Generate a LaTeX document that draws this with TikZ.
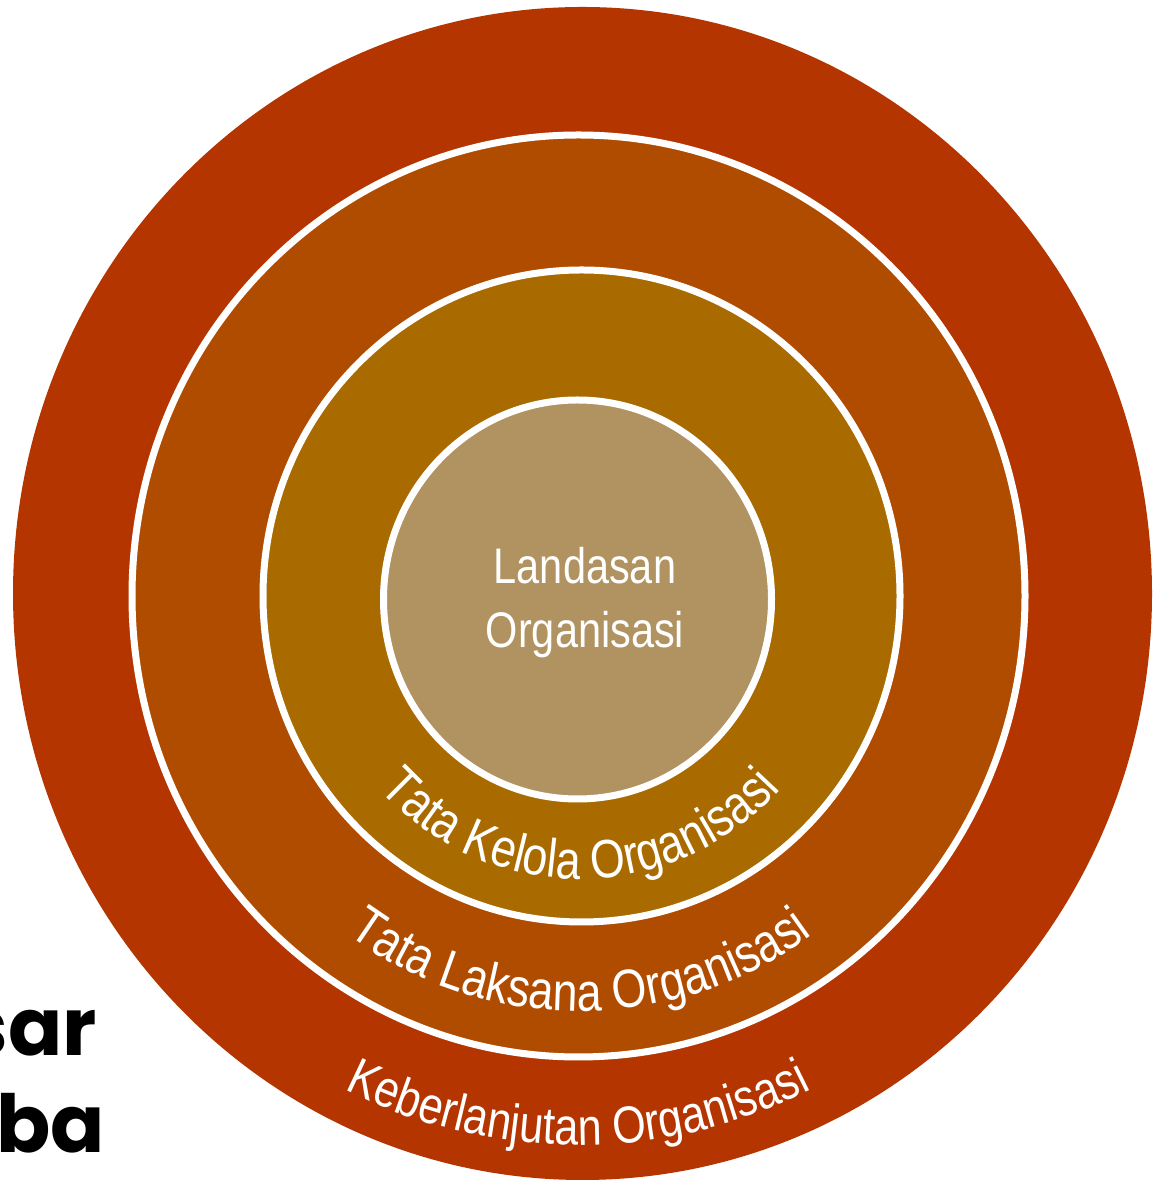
\documentclass[tikz,border=0pt]{standalone}
\usepackage{fontspec}
\setmainfont{Liberation Sans}
\newfontfamily\ringfont[FakeStretch=0.83]{Liberation Sans}
\newfontfamily\titlefont{Poppins}
\usetikzlibrary{decorations.text}
\definecolor{ringA}{RGB}{180,53,0}
\definecolor{ringB}{RGB}{176,76,0}
\definecolor{ringC}{RGB}{169,106,0}
\definecolor{ringD}{RGB}{176,147,96}
\tikzset{
  ringline/.style={draw=white, line width=7pt},
  ringtext/.style 2 args={decorate, decoration={text along path, text align=center,
      text color=white, text={|\ringfont\fontsize{#2}{60}\selectfont|#1}}},
  centertext/.style={text=white, font=\ringfont\fontsize{50}{60}\selectfont, anchor=base, inner sep=0pt},
  titletext/.style={text=black, font=\titlefont\bfseries\fontsize{80}{90}\selectfont, anchor=base east, inner sep=0pt}
}
\begin{document}
\begin{tikzpicture}[x=1pt,y=1pt]
\useasboundingbox (0,0) rectangle (1157,1185);
\clip (0,0) rectangle (1157,1185);
\fill[white] (0,0) rectangle (1157,1185);
% rings
\fill[ringA] (582.5,591.5) ellipse [x radius=569.5, y radius=586.5];
\filldraw[fill=ringB, ringline] (578.5,589) ellipse [x radius=446.5, y radius=461];
\filldraw[fill=ringC, ringline] (581.5,589) ellipse [x radius=318.5, y radius=326];
\filldraw[fill=ringD, ringline] (577.5,585.5) ellipse [x radius=194, y radius=199.5];
% curved labels
\path[ringtext={Tata Kelola Organisasi}{54}] (580,589) ++(180:275 and 283) arc[start angle=180, end angle=360, x radius=275, y radius=283];
\path[ringtext={Tata Laksana Organisasi}{54}] (580,589) ++(180:403 and 415) arc[start angle=180, end angle=360, x radius=403, y radius=415];
\path[ringtext={Keberlanjutan Organisasi}{52}] (578,589) ++(180:533 and 549) arc[start angle=180, end angle=360, x radius=533, y radius=549];
% center label
\node[centertext] (land) at (585,601) {Landasan};
\node[centertext] (org) at (585,537) {Organisasi};
% title fragments
\node[titletext] (t1) at (97,129) {sar};
\node[titletext] (t2) at (105,32) {aba};
\end{tikzpicture}
\end{document}
